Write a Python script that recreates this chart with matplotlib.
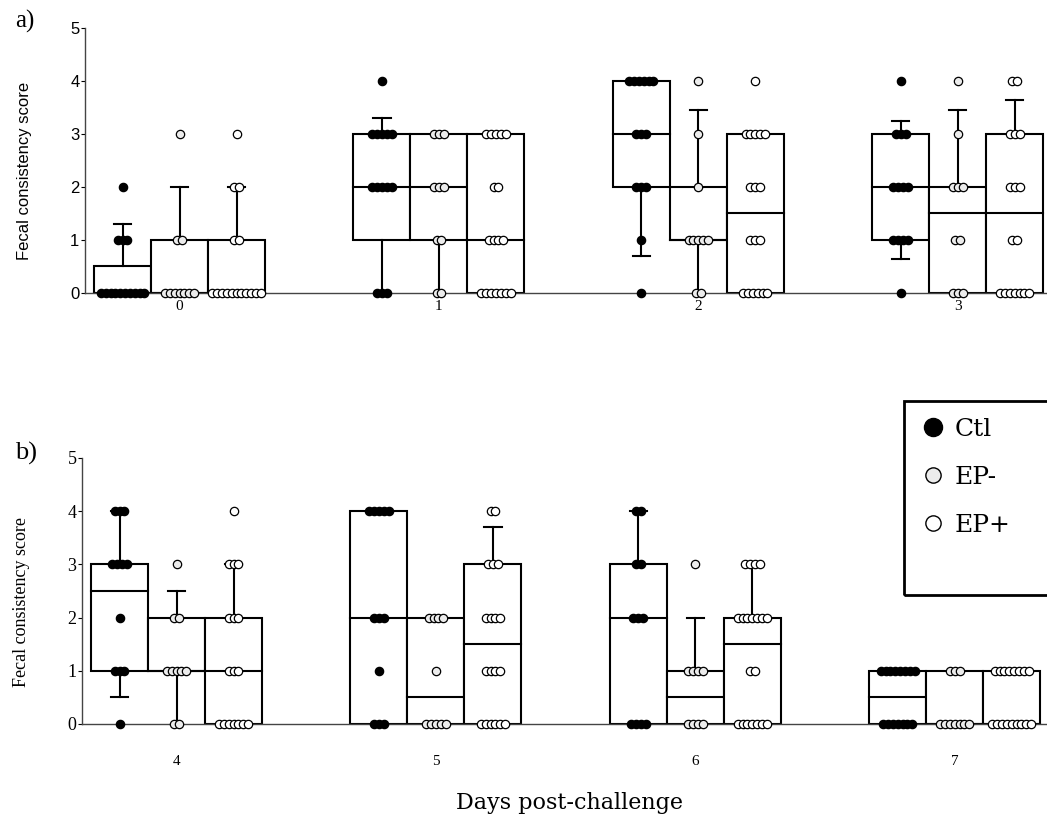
import matplotlib
matplotlib.use("Agg")
import matplotlib.pyplot as plt
from matplotlib.patches import Rectangle
from matplotlib.lines import Line2D

# ---------------- data ----------------
groups = ["Ctl", "EP-", "EP+"]
scores = [0, 1, 2, 3, 4]

days_a = ["0", "1", "2", "3"]
days_b = ["4", "5", "6", "7"]

# box statistics per day, per group: lower quartile, median, upper quartile, whisker low, whisker high
q1_a = [[0, 0, 0], [1, 1, 0], [2, 1, 0], [1, 0, 0]]
med_a = [[0, 0, 0], [2, 2, 1], [3, 1, 1.5], [2, 1.5, 1.5]]
q3_a = [[0.5, 1, 1], [3, 3, 3], [4, 2, 3], [3, 2, 3]]
wlo_a = [[0, 0, 0], [0, 0, 0], [0.7, 0, 0], [0.65, 0, 0]]
whi_a = [[1.3, 2, 2], [3.3, 3, 3], [4, 3.45, 3], [3.25, 3.45, 3.65]]

q1_b = [[1, 1, 0], [0, 0, 0], [0, 0, 0], [0, 0, 0]]
med_b = [[2.5, 1, 1], [2, 0.5, 1.5], [2, 0.5, 1.5], [0.5, 0, 0]]
q3_b = [[3, 2, 2], [4, 2, 3], [3, 1, 2], [1, 1, 1]]
wlo_b = [[0.5, 0, 0], [0, 0, 0], [0, 0, 0], [0, 0, 0]]
whi_b = [[4, 2.5, 3], [4, 2, 3.7], [4, 2, 3], [1, 1, 1]]

# number of animals at each score 0..4, per day, per group
counts_a = [
    [[10, 3, 1, 0, 0], [7, 2, 0, 1, 0], [11, 2, 2, 1, 0]],
    [[3, 0, 5, 5, 1], [2, 2, 3, 3, 0], [7, 4, 2, 5, 0]],
    [[1, 1, 3, 3, 6], [2, 5, 1, 1, 1], [6, 3, 3, 5, 1]],
    [[1, 4, 4, 3, 1], [3, 2, 3, 1, 1], [7, 2, 3, 3, 2]],
]
counts_b = [
    [[1, 3, 1, 4, 3], [2, 5, 2, 1, 0], [7, 3, 3, 3, 1]],
    [[3, 1, 3, 0, 5], [5, 1, 4, 0, 0], [6, 4, 4, 3, 2]],
    [[4, 0, 3, 2, 2], [4, 4, 0, 1, 0], [7, 2, 7, 4, 0]],
    [[7, 8, 0, 0, 0], [7, 3, 0, 0, 0], [9, 8, 0, 0, 0]],
]

# ---------------- style ----------------
face = {"Ctl": "black", "EP-": "#ececec", "EP+": "white"}
BW = 1.0        # box width
GAP = 4.55      # distance between day groups
X0 = 1.66       # centre of first group
DX = 0.085      # horizontal spacing of stacked dots
CAP = 0.3

W, H = 1047, 827
fig = plt.figure(figsize=(W / 100, H / 100), dpi=100)
ax_a = fig.add_axes([85 / W, 1 - 293 / H, (W - 85) / W, (293 - 28) / H])
ax_b = fig.add_axes([82 / W, 1 - 724 / H, (W - 82) / W, (724 - 458) / H])


def draw_panel(ax, days, q1, med, q3, wlo, whi, counts, xmax):
    for d in range(len(days)):
        gc = X0 + d * GAP
        for g, name in enumerate(groups):
            c = gc + (g - 1) * BW
            ax.add_patch(Rectangle((c - BW / 2, q1[d][g]), BW, q3[d][g] - q1[d][g],
                                   facecolor="white", edgecolor="black", lw=1.5, zorder=2))
            ax.plot([c - BW / 2, c + BW / 2], [med[d][g]] * 2, color="black", lw=1.5, zorder=2)
            if whi[d][g] > q3[d][g]:
                ax.plot([c, c], [q3[d][g], whi[d][g]], color="black", lw=1.5, zorder=2)
                ax.plot([c - CAP / 2, c + CAP / 2], [whi[d][g]] * 2, color="black", lw=1.5, zorder=2)
            if wlo[d][g] < q1[d][g]:
                ax.plot([c, c], [q1[d][g], wlo[d][g]], color="black", lw=1.5, zorder=2)
                if wlo[d][g] > 0:
                    ax.plot([c - CAP / 2, c + CAP / 2], [wlo[d][g]] * 2, color="black", lw=1.5, zorder=2)
            xs, ys = [], []
            for s, n in zip(scores, counts[d][g]):
                for i in range(n):
                    xs.append(c + (i - (n - 1) / 2) * DX)
                    ys.append(s)
            ax.scatter(xs, ys, s=36, facecolor=face[name], edgecolor="black",
                       linewidths=0.9, zorder=3, clip_on=False)
    ax.set_xlim(0, xmax)
    ax.set_ylim(0, 5)
    ax.set_xticks([X0 + d * GAP for d in range(len(days))])
    ax.set_xticklabels(days)
    ax.set_yticks([0, 1, 2, 3, 4, 5])
    for sp in ["top", "right"]:
        ax.spines[sp].set_visible(False)
    ax.spines["left"].set_color("#444444")
    ax.spines["bottom"].set_color("#444444")
    ax.spines["left"].set_linewidth(1.0)
    ax.spines["bottom"].set_linewidth(1.0)
    ax.tick_params(axis="y", length=3, width=0.8, direction="out", pad=1)
    ax.set_facecolor("none")


draw_panel(ax_a, days_a, q1_a, med_a, q3_a, wlo_a, whi_a, counts_a, (W - 85) / 57)
draw_panel(ax_b, days_b, q1_b, med_b, q3_b, wlo_b, whi_b, counts_b, (W - 82) / 57)

# tick label fonts
for lab in ax_a.get_yticklabels():
    lab.set_fontfamily("Liberation Sans")
    lab.set_fontsize(12)
for lab in ax_b.get_yticklabels():
    lab.set_fontfamily("Liberation Serif")
    lab.set_fontsize(13)
for ax in (ax_a, ax_b):
    for lab in ax.get_xticklabels():
        lab.set_fontfamily("Liberation Serif")
        lab.set_fontsize(11)
ax_a.tick_params(axis="x", length=0, pad=5)
ax_b.tick_params(axis="x", length=0, pad=22)

ax_a.set_ylabel("Fecal consistency score", fontfamily="Liberation Sans", fontsize=12)
ax_b.set_ylabel("Fecal consistency score", fontfamily="Liberation Serif", fontsize=13)
ax_a.yaxis.set_label_coords((32 - 85) / (W - 85), (293 - 171) / (293 - 28))
ax_b.yaxis.set_label_coords((30 - 82) / (W - 82), (724 - 602) / (724 - 458))

fig.text(15 / W, 1 - 21 / H, "a)", fontfamily="Liberation Serif", fontsize=18, va="center", ha="left")
fig.text(15 / W, 1 - 453 / H, "b)", fontfamily="Liberation Serif", fontsize=19, va="center", ha="left")
fig.text(570 / W, 1 - 803 / H, "Days post-challenge", fontfamily="DejaVu Serif", fontsize=16,
         ha="center", va="center")

# legend
handles = [Line2D([], [], ls="none", marker="o", ms=ms, mfc=face[n], mec="black", mew=1.0)
           for n, ms in zip(groups, [13, 11, 11])]
leg = fig.legend(handles, groups, loc="upper left", bbox_to_anchor=(920 / W, 1 - 418 / H),
                 frameon=False, prop={"family": "DejaVu Serif", "size": 18},
                 handlelength=1.0, handletextpad=0.4, labelspacing=1.0, borderpad=0, borderaxespad=0)
fig.add_artist(Rectangle((904 / W, 1 - 595 / H), (1080 - 904) / W, (595 - 401) / H,
                         transform=fig.transFigure, facecolor="none", edgecolor="black", lw=2))

fig.savefig("out.png", dpi=100)
